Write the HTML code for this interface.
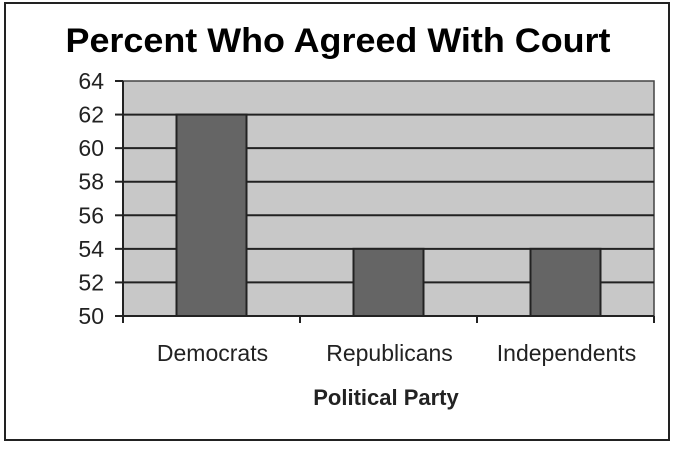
<!DOCTYPE html>
<html><head><meta charset="utf-8"><style>
body{margin:0;background:#fff;width:676px;height:446px;overflow:hidden}
svg text{font-family:"Liberation Sans",sans-serif;fill:#222}
</style></head><body>
<svg width="676" height="446">
<rect x="5" y="3" width="664" height="437" fill="#fff" stroke="#222" stroke-width="2"/>
<text x="338" y="52" text-anchor="middle" font-size="34" font-weight="bold" textLength="545" lengthAdjust="spacingAndGlyphs" style="fill:#000">Percent Who Agreed With Court</text>
<g id="plot"></g>
<text x="386" y="405" text-anchor="middle" font-size="22" font-weight="bold">Political Party</text>
</svg>
<script>
const categories=["Democrats","Republicans","Independents"];
const values=[62,54,54];
const yTicks=[50,52,54,56,58,60,62,64];
const L=123,R=654,T=81,B=316,yMin=50,yMax=64;
const y=v=>B-(v-yMin)/(yMax-yMin)*(B-T);
const bw=(R-L)/categories.length;
const xc=i=>L+bw*(i+0.5);
const ns="http://www.w3.org/2000/svg",g=document.getElementById('plot');
function mk(t,a){const e=document.createElementNS(ns,t);for(const k in a)e.setAttribute(k,a[k]);g.appendChild(e);return e;}
const bg=mk('rect',{x:L,y:T,width:R-L,height:B-T,fill:'#c8c8c8',stroke:'#444','stroke-width':1.5});


yTicks.forEach(v=>{
 if(v>yMin&&v<yMax){const gl=mk('line',{x1:L,x2:R,y1:y(v),y2:y(v),stroke:'#222','stroke-width':2});
 
 }
 const tk=mk('line',{x1:L-8,x2:L,y1:y(v),y2:y(v),stroke:'#222','stroke-width':2});
 
 
 const t=mk('text',{x:L-19,y:y(v)+8,'text-anchor':'end','font-size':23});t.textContent=v;
 
 
});
const ax=mk('line',{x1:L,x2:L,y1:T,y2:B+4,stroke:'#222','stroke-width':2});


const xa=mk('line',{x1:L,x2:R,y1:B,y2:B,stroke:'#222','stroke-width':2});


for(let i=0;i<=categories.length;i++){const tk=mk('line',{x1:L+bw*i,x2:L+bw*i,y1:B,y2:B+7,stroke:'#222','stroke-width':2});
 
 }
categories.forEach((c,i)=>{
 const b=mk('rect',{x:xc(i)-35,y:y(values[i]),width:70,height:B-y(values[i]),fill:'#656565',stroke:'#222','stroke-width':2});
 
 
 const t=mk('text',{x:xc(i)+1,y:361,'text-anchor':'middle','font-size':23});t.textContent=c;
 
 
});
</script>
</body></html>
